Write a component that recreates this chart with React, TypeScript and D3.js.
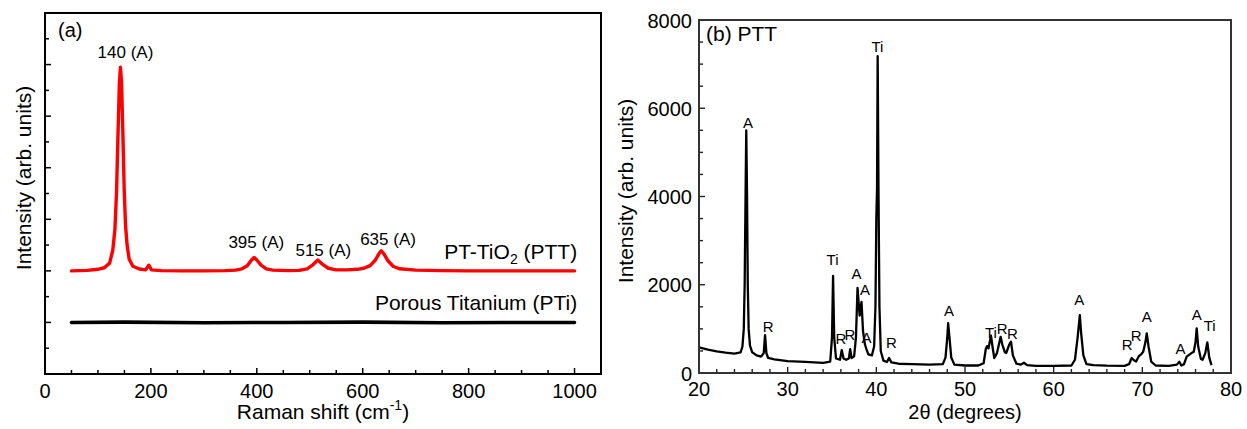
import React, { useEffect } from 'react';
import * as d3 from 'd3';

const W = 1247;
const H = 429;
const FONT = '"Liberation Sans", Arial, Helvetica, sans-serif';

// ---------- Panel (a): Raman ----------
const pttRaman: [number, number][] = [
  [50, 4.0], [80, 4.02], [100, 4.06], [112, 4.12], [122, 4.3], [128, 4.8], [132, 5.6], [135, 7.0],
  [138, 9.4], [140.5, 11.3], [142.5, 11.9], [144.5, 11.3], [147, 9.4], [149.5, 7.2], [152, 5.8],
  [155, 5.0], [159, 4.45], [166, 4.18], [178, 4.07], [190, 4.04], [196, 4.22], [201, 4.04],
  [220, 4.01], [260, 4.0], [300, 4.0], [340, 4.01], [360, 4.03], [372, 4.08], [382, 4.2],
  [390, 4.42], [395, 4.52], [400, 4.42], [408, 4.22], [418, 4.08], [430, 4.03], [460, 4.01],
  [480, 4.02], [495, 4.08], [505, 4.22], [515, 4.42], [525, 4.24], [535, 4.1], [550, 4.04],
  [570, 4.04], [590, 4.06], [602, 4.1], [614, 4.2], [624, 4.42], [631, 4.68], [635, 4.78],
  [640, 4.66], [648, 4.38], [658, 4.17], [670, 4.08], [700, 4.03], [750, 4.01], [800, 4.0],
  [900, 4.0], [1000, 4.0],
];
const ptiRaman: [number, number][] = [
  [50, 2.0], [150, 2.01], [300, 1.99], [450, 2.0], [600, 2.01], [750, 1.99], [900, 2.0], [1000, 2.0],
];
const ramanXTicks = [0, 200, 400, 600, 800, 1000];
const ramanXMinor = [50, 100, 150, 250, 300, 350, 450, 500, 550, 650, 700, 750, 850, 900, 950, 1050];
const ramanYTicks = [0, 1, 2, 3, 4, 5, 6, 7, 8, 9, 10, 11, 12, 13, 14];
const ramanPeakLabels: { t: string; x: number; y: number }[] = [
  { t: '140 (A)', x: 152, y: 12.25 },
  { t: '395 (A)', x: 399, y: 4.89 },
  { t: '515 (A)', x: 525.6, y: 4.58 },
  { t: '635 (A)', x: 647.8, y: 5.0 },
];

// ---------- Panel (b): XRD ----------
const xrdPattern: [number, number][] = [
  [20, 580], [21, 530], [22, 490], [23, 460], [24, 440], [24.7, 470], [24.9, 600], [25.05, 1000],
  [25.15, 2000], [25.25, 4000], [25.33, 5500], [25.42, 4000], [25.5, 2000], [25.6, 1000],
  [25.75, 620], [26.0, 470], [26.5, 400], [27.0, 370], [27.3, 450], [27.45, 860], [27.6, 450],
  [27.8, 340], [28.5, 310], [30, 270], [32, 250], [34, 230], [34.8, 260], [35.0, 800],
  [35.12, 2200], [35.25, 800], [35.45, 330], [35.9, 300], [36.1, 520], [36.3, 330], [36.6, 300],
  [36.9, 330], [37.05, 540], [37.2, 340], [37.5, 380], [37.7, 800], [37.88, 1930], [38.12, 1300],
  [38.33, 1610], [38.5, 950], [38.7, 660], [38.85, 560], [39.1, 420], [39.5, 400], [39.75, 600],
  [39.9, 1500], [40.0, 3500], [40.08, 4200], [40.15, 7180], [40.25, 4000], [40.35, 1500],
  [40.5, 500], [40.8, 280], [41.2, 250], [41.43, 340], [41.7, 240], [42.5, 210], [44, 200],
  [46, 190], [47.5, 200], [47.8, 350], [48.0, 800], [48.1, 1130], [48.25, 800], [48.45, 350],
  [48.8, 190], [50, 170], [51.5, 170], [52.1, 220], [52.35, 550], [52.5, 610], [52.65, 560],
  [52.93, 845], [53.1, 600], [53.3, 340], [53.6, 450], [54.02, 820], [54.2, 650], [54.5, 470],
  [54.65, 453], [55.0, 650], [55.19, 710], [55.4, 400], [55.8, 210], [56.3, 190], [56.65, 233],
  [57, 180], [58, 160], [60, 160], [62.0, 170], [62.4, 300], [62.7, 800], [62.95, 1310],
  [63.1, 900], [63.35, 400], [63.7, 200], [64.5, 180], [66, 165], [68, 160], [68.5, 200],
  [68.8, 340], [69.05, 290], [69.3, 260], [69.6, 380], [69.8, 410], [70.1, 480], [70.35, 700],
  [70.5, 900], [70.7, 600], [71.0, 260], [71.5, 170], [73, 160], [73.9, 190], [74.17, 256],
  [74.4, 170], [74.7, 200], [75.0, 370], [75.5, 446], [75.8, 480], [76.0, 700], [76.13, 1010],
  [76.3, 600], [76.6, 320], [76.8, 300], [77.1, 450], [77.33, 695], [77.55, 350], [77.8, 180],
];
const xrdXTicks = [20, 30, 40, 50, 60, 70, 80];
const xrdXMinor = [22, 24, 26, 28, 32, 34, 36, 38, 42, 44, 46, 48, 52, 54, 56, 58, 62, 64, 66, 68, 72, 74, 76, 78];
const xrdYTicks = [0, 2000, 4000, 6000, 8000];
const xrdYMinor = [500, 1000, 1500, 2500, 3000, 3500, 4500, 5000, 5500, 6500, 7000, 7500];
const xrdPeakLabels: { t: string; x: number; y: number }[] = [
  { t: 'A', x: 25.53, y: 5552 },
  { t: 'Ti', x: 40.13, y: 7274 },
  { t: 'R', x: 27.8, y: 929 },
  { t: 'Ti', x: 35.06, y: 2447 },
  { t: 'R', x: 36.0, y: 657 },
  { t: 'R', x: 37.03, y: 748 },
  { t: 'A', x: 37.76, y: 2130 },
  { t: 'A', x: 38.72, y: 1767 },
  { t: 'A', x: 38.9, y: 680 },
  { t: 'R', x: 41.7, y: 567 },
  { t: 'A', x: 48.2, y: 1292 },
  { t: 'Ti', x: 52.93, y: 793 },
  { t: 'R', x: 54.2, y: 884 },
  { t: 'R', x: 55.36, y: 770 },
  { t: 'A', x: 62.9, y: 1541 },
  { t: 'R', x: 68.3, y: 521 },
  { t: 'R', x: 69.3, y: 725 },
  { t: 'A', x: 70.5, y: 1156 },
  { t: 'A', x: 74.3, y: 430 },
  { t: 'A', x: 76.13, y: 1201 },
  { t: 'Ti', x: 77.6, y: 952 },
];

// ---------- layout ----------
const A = { left: 45, right: 601, top: 13, bottom: 374 };
const B = { left: 699, right: 1231, top: 20, bottom: 373 };

export default function App() {
  useEffect(() => {
    document.body.style.margin = '0';
  }, []);

  const xa = d3.scaleLinear().domain([0, 1050]).range([A.left, A.right]);
  const ya = d3.scaleLinear().domain([0, 14]).range([A.bottom, A.top]);
  const xb = d3.scaleLinear().domain([20, 80]).range([B.left, B.right]);
  const yb = d3.scaleLinear().domain([0, 8000]).range([B.bottom, B.top]);

  const lineA = d3.line<[number, number]>().x((d) => xa(d[0])).y((d) => ya(d[1]));
  const lineB = d3.line<[number, number]>().x((d) => xb(d[0])).y((d) => yb(d[1]));

  return (
    <svg width={W} height={H} style={{ display: 'block', position: 'absolute', left: 0, top: 0, background: '#fff' }} fontFamily={FONT}>
      {/* ===== Panel (a) ===== */}
      <g>
        {ramanXTicks.map((v) => (
          <line key={'xam' + v} x1={xa(v)} x2={xa(v)} y1={A.bottom} y2={A.bottom - 6} stroke="#000" strokeWidth={1.5} />
        ))}
        {ramanXMinor.map((v) => (
          <line key={'xan' + v} x1={xa(v)} x2={xa(v)} y1={A.bottom} y2={A.bottom - 4} stroke="#000" strokeWidth={1.5} />
        ))}
        {ramanYTicks.map((v) => (
          <line key={'ya' + v} x1={A.left} x2={A.left + (v % 2 === 0 ? 6 : 4)} y1={ya(v)} y2={ya(v)} stroke="#000" strokeWidth={1.5} />
        ))}
        {ramanXTicks.map((v) => (
          <text key={'xal' + v} x={xa(v)} y={398} textAnchor="middle" fontSize={20} fill="#000">{v}</text>
        ))}
        <path d={lineA(ptiRaman) || ''} fill="none" stroke="#000" strokeWidth={3.6} strokeLinejoin="round" strokeLinecap="round" />
        <path d={lineA(pttRaman) || ''} fill="none" stroke="#ff0000" strokeWidth={3.4} strokeLinejoin="round" strokeLinecap="round" />
        <rect x={A.left} y={A.top} width={A.right - A.left} height={A.bottom - A.top} fill="none" stroke="#000" strokeWidth={2} />
        {ramanPeakLabels.map((l) => (
          <text key={l.t} x={xa(l.x)} y={ya(l.y)} textAnchor="middle" fontSize={17} fill="#000">{l.t}</text>
        ))}
        <text x={xa(1005)} y={ya(4.46)} textAnchor="end" fontSize={21} fill="#000">
          PT-TiO<tspan fontSize={14} dy={5}>2</tspan><tspan dy={-5}> (PTT)</tspan>
        </text>
        <text x={xa(1005)} y={ya(2.48)} textAnchor="end" fontSize={21} fill="#000">Porous Titanium (PTi)</text>
        <text x={58} y={37} fontSize={20} fill="#000">(a)</text>
        <text x={(A.left + A.right) / 2} y={419} textAnchor="middle" fontSize={21} fill="#000">
          Raman shift (cm<tspan fontSize={14} dy={-9}>-1</tspan><tspan dy={9}>)</tspan>
        </text>
        <text transform={`translate(31,178) rotate(-90)`} textAnchor="middle" fontSize={21} fill="#000">Intensity (arb. units)</text>
      </g>

      {/* ===== Panel (b) ===== */}
      <g>
        {xrdXTicks.map((v) => (
          <line key={'xbm' + v} x1={xb(v)} x2={xb(v)} y1={B.bottom} y2={B.bottom - 6} stroke="#222" strokeWidth={1.4} />
        ))}
        {xrdXMinor.map((v) => (
          <line key={'xbn' + v} x1={xb(v)} x2={xb(v)} y1={B.bottom} y2={B.bottom - 4} stroke="#222" strokeWidth={1.4} />
        ))}
        {xrdYTicks.map((v) => (
          <line key={'ybm' + v} x1={B.left} x2={B.left + 6} y1={yb(v)} y2={yb(v)} stroke="#222" strokeWidth={1.4} />
        ))}
        {xrdYMinor.map((v) => (
          <line key={'ybn' + v} x1={B.left} x2={B.left + 4} y1={yb(v)} y2={yb(v)} stroke="#222" strokeWidth={1.4} />
        ))}
        {xrdXTicks.map((v) => (
          <text key={'xbl' + v} x={xb(v)} y={396} textAnchor="middle" fontSize={20} fill="#000">{v}</text>
        ))}
        {xrdYTicks.map((v) => (
          <text key={'ybl' + v} x={692} y={yb(v) + 7.5} textAnchor="end" fontSize={20} fill="#000">{v}</text>
        ))}
        <path d={lineB(xrdPattern) || ''} fill="none" stroke="#000" strokeWidth={2.3} strokeLinejoin="round" />
        <rect x={B.left} y={B.top} width={B.right - B.left} height={B.bottom - B.top} fill="none" stroke="#333" strokeWidth={2} />
        {xrdPeakLabels.map((l, i) => (
          <text key={'pl' + i} x={xb(l.x)} y={yb(l.y)} textAnchor="middle" fontSize={15} fill="#000">{l.t}</text>
        ))}
        <text x={706} y={41} fontSize={21} fill="#000">(b) PTT</text>
        <text x={(B.left + B.right) / 2} y={419} textAnchor="middle" fontSize={20} fill="#000">2θ (degrees)</text>
        <text transform={`translate(633,191) rotate(-90)`} textAnchor="middle" fontSize={21} fill="#000">Intensity (arb. units)</text>
      </g>
    </svg>
  );
}
